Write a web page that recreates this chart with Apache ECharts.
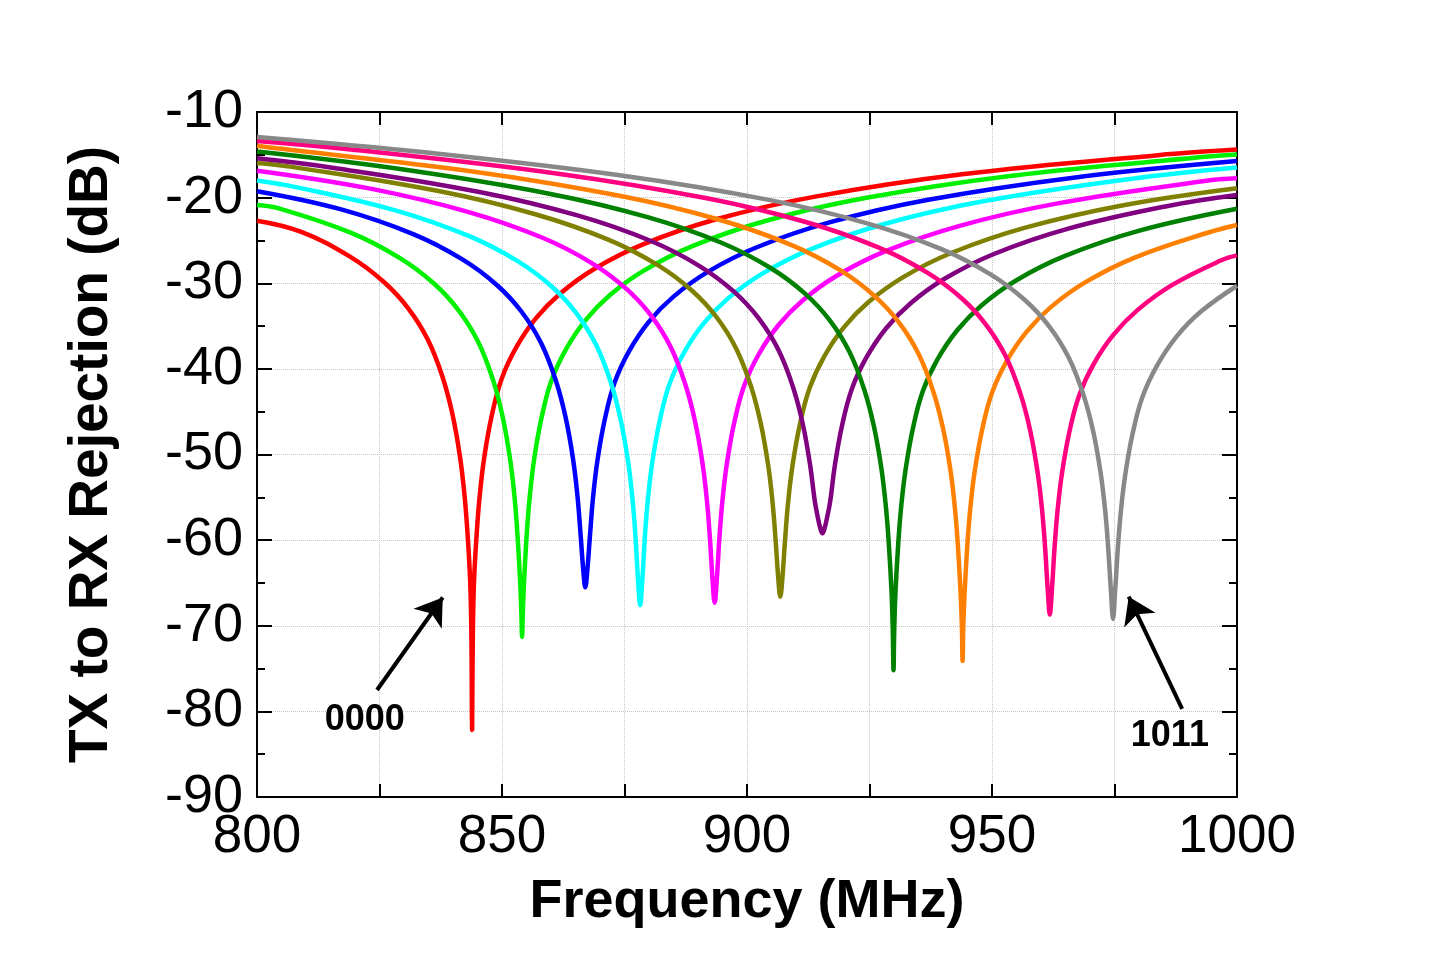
<!DOCTYPE html>
<html>
<head>
<meta charset="utf-8">
<script src="https://cdn.jsdelivr.net/npm/echarts@6/dist/echarts.min.js"></script>
<style>
html,body{margin:0;padding:0;background:#fff;}
#chart{width:1436px;height:956px;}
</style>
</head>
<body>
<div id="chart"></div>
<script>
// ---- Data ----
const xTicks = [800, 850, 900, 950, 1000];
const yTicks = [-10, -20, -30, -40, -50, -60, -70, -80, -90];

const s0000 = [[800,-22.7],[808.9,-23.98],[818.9,-26.87],[825.9,-29.86],[830.9,-32.96],[834.9,-36.64],[837.9,-41.01],[839.9,-45.34],[841.4,-50.16],[842.3,-54.48],[842.9,-58.69],[843.5,-64.7],[843.75,-71],[843.9,-82.2],[844.05,-71],[844.3,-64.7],[844.9,-58.7],[845.5,-54.53],[846.4,-50.24],[847.9,-45.47],[849.9,-41.2],[852.9,-37.5],[856.9,-34.11],[861.9,-31.19],[868.9,-28.3],[878.9,-25.43],[893.9,-22.5],[913.9,-19.88],[943.9,-17.27],[983.9,-15.04],[1000,-14.39]];
const s0001 = [[800,-20.85],[804.1,-21.2],[819.1,-24.09],[829.1,-27.04],[836.1,-30.03],[841.1,-33.13],[845.1,-36.8],[848.1,-41.17],[850.1,-45.5],[851.6,-50.33],[852.5,-54.64],[853.1,-58.85],[853.7,-64.86],[853.95,-68.5],[854.1,-71.3],[854.25,-68.5],[854.5,-64.87],[855.1,-58.88],[855.7,-54.69],[856.6,-50.41],[858.1,-45.63],[860.1,-41.36],[863.1,-37.66],[867.1,-34.27],[872.1,-31.35],[879.1,-28.47],[889.1,-25.6],[904.1,-22.67],[924.1,-20.05],[954.1,-17.44],[994.1,-15.21],[1000,-14.96]];
const s0010 = [[800,-19.25],[817,-21.35],[832,-24.29],[842,-27.24],[849,-30.23],[854,-33.33],[858,-37.01],[861,-41.38],[863,-45.71],[864.5,-50.54],[865.4,-54.85],[866,-59.06],[866.6,-63.6],[867,-65.5],[867.4,-63.6],[868,-59.09],[868.6,-54.9],[869.5,-50.61],[871,-45.84],[873,-41.57],[876,-37.87],[880,-34.48],[885,-31.56],[892,-28.67],[902,-25.8],[917,-22.87],[937,-20.25],[967,-17.64],[1000,-15.73]];
const s0011 = [[800,-18.0],[808.2,-18.8],[828.2,-21.48],[843.2,-24.47],[853.2,-27.42],[860.2,-30.41],[865.2,-33.51],[869.2,-37.19],[872.2,-41.56],[874.2,-45.89],[875.7,-50.71],[876.6,-55.03],[877.2,-59.24],[877.8,-65.0],[878.2,-67.6],[878.6,-65.0],[879.2,-59.27],[879.8,-55.08],[880.7,-50.79],[882.2,-46.02],[884.2,-41.75],[887.2,-38.05],[891.2,-34.66],[896.2,-31.74],[903.2,-28.85],[913.2,-25.98],[928.2,-23.05],[948.2,-20.43],[978.2,-17.82],[1000,-16.49]];
const s0100 = [[800,-16.85],[823.4,-18.98],[843.4,-21.72],[858.4,-24.72],[868.4,-27.67],[875.4,-30.66],[880.4,-33.76],[884.4,-37.43],[887.4,-41.8],[889.4,-46.13],[890.9,-50.95],[891.8,-55.27],[892.4,-59.48],[893.0,-64.9],[893.4,-67.3],[893.8,-64.9],[894.4,-59.51],[895.0,-55.32],[895.9,-51.03],[897.4,-46.26],[899.4,-41.99],[902.4,-38.29],[906.4,-34.9],[911.4,-31.98],[918.4,-29.09],[928.4,-26.22],[943.4,-23.29],[963.4,-20.67],[993.4,-18.06],[1000,-17.75]];
const s0101 = [[800,-15.95],[806.8,-16.38],[836.8,-19.2],[856.8,-21.94],[871.8,-24.93],[881.8,-27.88],[888.8,-30.87],[893.8,-33.97],[897.8,-37.64],[900.8,-42.01],[902.8,-46.34],[904.3,-51.17],[905.2,-55.48],[905.8,-59.69],[906.4,-64.6],[906.8,-66.6],[907.2,-64.6],[907.8,-59.72],[908.4,-55.53],[909.3,-51.25],[910.8,-46.47],[912.8,-42.2],[915.8,-38.5],[919.8,-35.12],[924.8,-32.2],[931.8,-29.31],[941.8,-26.44],[956.8,-23.51],[976.8,-20.89],[1000,-18.9]];
const s0110 = [[800,-15.4],[815.4,-16.5],[845.4,-19.34],[865.4,-22.08],[880.4,-25.07],[890.4,-28.02],[897.4,-31.01],[902.4,-34.11],[906.4,-37.78],[909.4,-42.15],[911.4,-46.48],[912.9,-51.31],[913.8,-55.3],[914.4,-57.2],[915.0,-58.7],[915.4,-59.2],[915.8,-58.7],[916.4,-57.2],[917.0,-55.4],[917.9,-51.39],[919.4,-46.61],[921.4,-42.34],[924.4,-38.64],[928.4,-35.25],[933.4,-32.33],[940.4,-29.45],[950.4,-26.58],[965.4,-23.65],[985.4,-21.03],[1000,-19.7]];
const s0111 = [[800,-14.62],[829.9,-16.72],[859.9,-19.57],[879.9,-22.31],[894.9,-25.3],[904.9,-28.25],[911.9,-31.24],[916.9,-34.34],[920.9,-38.01],[923.9,-42.38],[925.9,-46.71],[927.4,-51.54],[928.3,-55.85],[928.9,-60.06],[929.5,-66.07],[929.75,-70.5],[929.9,-75.2],[930.05,-70.5],[930.3,-66.09],[930.9,-60.1],[931.5,-55.9],[932.4,-51.62],[933.9,-46.84],[935.9,-42.57],[938.9,-38.87],[942.9,-35.49],[947.9,-32.57],[954.9,-29.68],[964.9,-26.81],[979.9,-23.88],[1000,-21.3]];
const s1000 = [[800,-13.95],[804,-14.24],[844,-16.94],[874,-19.79],[894,-22.53],[909,-25.52],[919,-28.47],[926,-31.47],[931,-34.57],[935,-38.24],[938,-42.61],[940,-46.94],[941.5,-51.76],[942.4,-56.08],[943,-60.29],[943.6,-66.3],[943.85,-70],[944.0,-74.1],[944.15,-70],[944.4,-66.3],[945,-60.32],[945.6,-56.13],[946.5,-51.84],[948,-47.07],[950,-42.8],[953,-39.1],[957,-35.71],[962,-32.79],[969,-29.9],[979,-27.03],[994,-24.1],[1000,-23.2]];
const s1001 = [[800,-13.38],[821.8,-14.53],[861.8,-17.23],[891.8,-20.08],[911.8,-22.82],[926.8,-25.81],[936.8,-28.76],[943.8,-31.75],[948.8,-34.85],[952.8,-38.53],[955.8,-42.89],[957.8,-47.22],[959.3,-52.05],[960.2,-56.36],[960.8,-60.57],[961.4,-66.0],[961.8,-68.7],[962.2,-66.0],[962.8,-60.6],[963.4,-56.41],[964.3,-52.13],[965.8,-47.35],[967.8,-43.08],[970.8,-39.38],[974.8,-36.0],[979.8,-33.08],[986.8,-30.19],[996.8,-27.32],[1000,-26.75]];
const s1011 = [[800,-12.91],[834.7,-14.74],[874.7,-17.44],[904.7,-20.29],[924.7,-23.03],[939.7,-26.02],[949.7,-28.97],[956.7,-31.96],[961.7,-35.06],[965.7,-38.73],[968.7,-43.1],[970.7,-47.43],[972.2,-52.26],[973.1,-56.57],[973.7,-60.78],[974.3,-66.2],[974.7,-69.2],[975.1,-66.2],[975.7,-60.81],[976.3,-56.62],[977.2,-52.34],[978.7,-47.56],[980.7,-43.29],[983.7,-39.59],[987.7,-36.2],[992.7,-33.28],[1000,-30.29]];

const seriesNames = ['0000','0001','0010','0011','0100','0101','0110','0111','1000','1001','1011'];
const seriesData = [s0000,s0001,s0010,s0011,s0100,s0101,s0110,s0111,s1000,s1001,s1011];

// annotations (data coordinates)
const arrowSegments = [
  [[824.5,-77.5],[837.9,-66.7]],
  [[988.8,-79.7],[977.9,-66.6]]
];
const annotationLabels = [[822.0,-81.0,'0000'],[986.3,-82.9,'1011']];

// ---- Styles ----
const colors = ['#ff0000','#00f000','#0000ff','#00ffff','#ff00ff','#808000','#800080','#008000','#ff8000','#ff0080','#888888'];
const FONT = 'Liberation Sans, Arial, Helvetica, sans-serif';

const chart = echarts.init(document.getElementById('chart'), null, {renderer:'canvas'});

const axisLineStyle = {color:'#000', width:2};
const series = seriesData.map((d, i) => ({
  name: seriesNames[i],
  type: 'line',
  data: d,
  showSymbol: false,
  symbol: 'none',
  smooth: 0.4,
  lineStyle: {color: colors[i], width: 4.5},
  itemStyle: {color: colors[i]},
  z: 2 + i,
  animation: false
}));

series.push({
  type: 'lines',
  coordinateSystem: 'cartesian2d',
  data: arrowSegments.map(s => ({coords: s})),
  symbol: ['none', 'arrow'],
  symbolSize: 26,
  lineStyle: {color:'#000', width: 4, opacity: 1},
  z: 30,
  animation: false
});
series.push({
  type: 'scatter',
  data: annotationLabels,
  symbolSize: 0,
  itemStyle: {color: '#000', opacity: 1},
  label: {show: true, position: 'inside', formatter: p => p.value[2],
          fontSize: 36, fontWeight: 'bold', fontFamily: FONT, color: '#000',
          opacity: 1, textBorderWidth: 0},
  emphasis: {disabled: true},
  z: 30,
  animation: false
});

const option = {
  backgroundColor: '#fff',
  animation: false,
  grid: {left: 257, top: 112, width: 980, height: 685, containLabel: false},
  xAxis: [
    {
      type: 'value', min: 800, max: 1000, interval: 25, position: 'bottom',
      axisLine: {show: true, onZero: false, lineStyle: axisLineStyle},
      axisTick: {show: true, inside: true, length: 13, lineStyle: axisLineStyle},
      axisLabel: {
        formatter: v => (xTicks.indexOf(v) >= 0 ? String(v) : ''),
        fontSize: 53, color: '#000', fontFamily: FONT, margin: 14
      },
      splitLine: {show: true, lineStyle: {type: 'dotted', color: '#c4c4c4', width: 1}},
      name: 'Frequency (MHz)', nameLocation: 'middle', nameGap: 78,
      nameTextStyle: {fontSize: 54, fontWeight: 'bold', fontFamily: FONT, color: '#000'}
    },
    {
      type: 'value', min: 800, max: 1000, interval: 25, position: 'top',
      axisLine: {show: true, onZero: false, lineStyle: axisLineStyle},
      axisTick: {show: true, inside: true, length: 13, lineStyle: axisLineStyle},
      axisLabel: {show: false}, splitLine: {show: false}
    }
  ],
  yAxis: [
    {
      type: 'value', min: -90, max: -10, interval: 10, position: 'left',
      axisLine: {show: true, onZero: false, lineStyle: axisLineStyle},
      axisTick: {show: true, inside: true, length: 15, lineStyle: axisLineStyle},
      minorTick: {show: true, splitNumber: 2, length: 8, lineStyle: axisLineStyle},
      axisLabel: {
        formatter: v => (yTicks.indexOf(v) >= 0 ? String(v) : ''),
        fontSize: 54, color: '#000', fontFamily: FONT, margin: 14,
        padding: [0, 0, 7, 0]
      },
      splitLine: {show: true, lineStyle: {type: 'dotted', color: '#c4c4c4', width: 1}},
      name: 'TX to RX Rejection (dB)', nameLocation: 'middle', nameGap: 138,
      nameTextStyle: {fontSize: 55, fontWeight: 'bold', fontFamily: FONT, color: '#000'}
    },
    {
      type: 'value', min: -90, max: -10, interval: 10, position: 'right',
      axisLine: {show: true, onZero: false, lineStyle: axisLineStyle},
      axisTick: {show: true, inside: true, length: 15, lineStyle: axisLineStyle},
      minorTick: {show: true, splitNumber: 2, length: 8, lineStyle: axisLineStyle},
      axisLabel: {show: false}, splitLine: {show: false}
    }
  ],
  series: series
};
chart.setOption(option);
</script>
</body>
</html>
